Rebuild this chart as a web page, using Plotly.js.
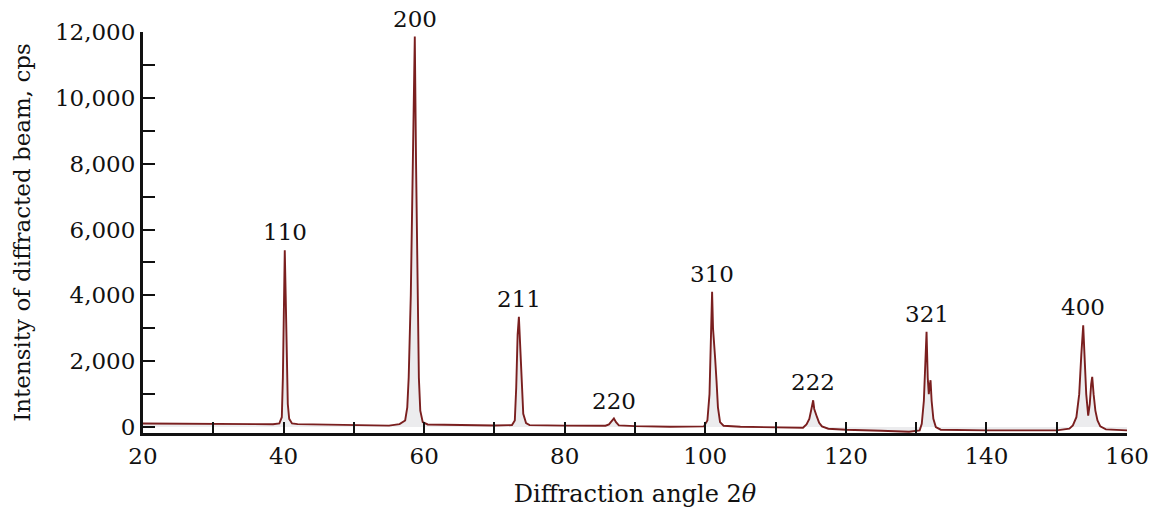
<!DOCTYPE html>
<html>
<head>
<meta charset="utf-8">
<script src="https://cdn.plot.ly/plotly-3.0.1.min.js"></script>
<style>html,body{margin:0;padding:0;background:#fff;}#chart{width:1157px;height:512px;}</style>
</head>
<body>
<div id="chart"></div>
<script>
// Diffraction angle 2θ (degrees)
const angle = [
  20, 30, 38.5, 39.4, 39.75, 39.9, 40.05, 40.17, 40.3, 40.45, 40.6, 40.8, 41.2, 42,
  45, 50, 55, 56.5, 57.3, 57.6, 57.8, 58.1, 58.4, 58.67, 58.85, 59.05, 59.25, 59.45, 59.8, 60.5,
  65, 70, 72.5, 72.9, 73.1, 73.3, 73.48, 73.65, 73.85, 74.1, 74.5, 75,
  80, 85.8, 86.3, 86.7, 87.0, 87.3, 87.7, 90, 95,
  99.8, 100.3, 100.6, 100.8, 100.97, 101.1, 101.25, 101.4, 101.6, 101.8, 102.1, 102.6,
  105, 110, 113.9, 114.4, 114.8, 115.1, 115.35, 115.5, 115.7, 115.9, 116.2, 116.6, 117.5,
  120, 125, 129, 130.5, 130.8, 131.1, 131.3, 131.48, 131.65, 131.8, 131.95, 132.05, 132.2, 132.45, 132.8, 133.5,
  140, 150, 151.8, 152.3, 152.8, 153.2, 153.5, 153.77, 153.95, 154.2, 154.48, 154.7, 154.9, 155.05, 155.25, 155.5, 155.8, 156.2, 157, 160
];
// Intensity of diffracted beam (cps)
const intensity = [
  110, 95, 85, 110, 300, 1500, 4000, 5370, 4000, 2000, 700, 250, 110, 90,
  80, 60, 45, 90, 200, 600, 1500, 4000, 8000, 11860, 8000, 4000, 1500, 500, 150, 80,
  60, 50, 60, 200, 1200, 2800, 3347, 2500, 1200, 400, 120, 60,
  45, 40, 80, 170, 260, 150, 50, 30, 10,
  20, 200, 1000, 2800, 4107, 3000, 2300, 2090, 1400, 600, 150, 40,
  10, -10, -20, 80, 250, 550, 815, 550, 450, 300, 130, 20, -50,
  -80, -110, -140, -100, 100, 800, 2000, 2891, 1500, 1000, 1300, 1422, 800, 250, 0, -80,
  -100, -100, -50, 50, 300, 1000, 2200, 3094, 2200, 1000, 350, 700, 1300, 1523, 1000, 500, 200, 20, -70, -100
];
// Peak labels (Miller indices) and their apex positions
const peakLabels = ["110", "200", "211", "220", "310", "222", "321", "400"];
const peakAngle = [40.17, 58.67, 73.48, 87.0, 100.97, 115.35, 131.48, 153.77];
const peakIntensity = [5370, 11860, 3347, 260, 4107, 815, 2891, 3094];

const xTickVals = [20, 30, 40, 50, 60, 70, 80, 90, 100, 110, 120, 130, 140, 150, 160];
const xTickText = ["20", "", "40", "", "60", "", "80", "", "100", "", "120", "", "140", "", "160"];
const yTickVals = [0, 1000, 2000, 3000, 4000, 5000, 6000, 7000, 8000, 9000, 10000, 11000, 12000];
const yTickText = ["0", "", "2,000", "", "4,000", "", "6,000", "", "8,000", "", "10,000", "", "12,000"];

const font = {family: "DejaVu Serif, serif", size: 23, color: "#111"};

const trace = {
  x: angle, y: intensity, type: "scatter", mode: "lines",
  line: {color: "#7a1f1f", width: 1.9, shape: "linear"},
  fill: "tozeroy", fillcolor: "rgba(200,200,205,0.35)",
  hoverinfo: "x+y"
};

const annotations = peakLabels.map((t, i) => ({
  x: peakAngle[i], y: peakIntensity[i], xref: "x", yref: "y",
  text: t, showarrow: false, xanchor: "center", yanchor: "middle",
  yshift: 18, font: font
}));

const layout = {
  width: 1157, height: 512,
  margin: {l: 143, r: 30, t: 32, b: 79},
  paper_bgcolor: "#fff", plot_bgcolor: "#fff",
  showlegend: false,
  font: font,
  xaxis: {
    range: [20, 160], tickmode: "array", tickvals: xTickVals, ticktext: xTickText,
    ticks: "inside", ticklen: 11, tickwidth: 2, tickcolor: "#111",
    showline: true, linecolor: "#111", linewidth: 3,
    showgrid: false, zeroline: false, tickfont: font,
    title: {text: "Diffraction angle 2<i>θ</i>", font: {family: "DejaVu Serif, serif", size: 24, color: "#111"}, standoff: 18}
  },
  yaxis: {
    range: [-180, 12000], tickmode: "array", tickvals: yTickVals, ticktext: yTickText,
    ticks: "inside", ticklen: 12, tickwidth: 2, tickcolor: "#111",
    showline: true, linecolor: "#111", linewidth: 3,
    showgrid: false, zeroline: false, tickfont: font,
    title: {text: "Intensity of diffracted beam, cps", font: {family: "DejaVu Serif, serif", size: 23, color: "#111"}, standoff: 18}
  },
  annotations: annotations
};

Plotly.newPlot("chart", [trace], layout, {displayModeBar: false, staticPlot: true});
</script>
</body>
</html>
